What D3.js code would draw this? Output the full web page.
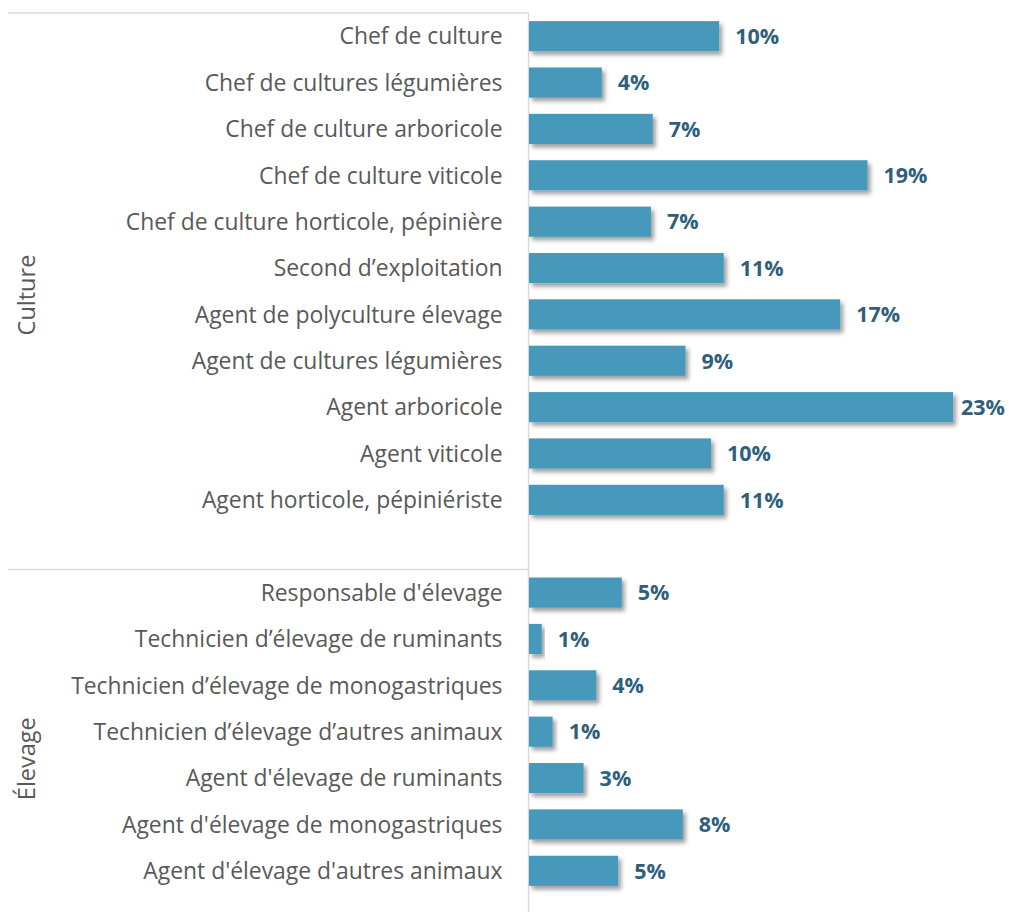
<!DOCTYPE html>
<html>
<head>
<meta charset="utf-8">
<script src="https://cdn.jsdelivr.net/npm/d3@7"></script>
<style>
  body { margin: 0; background: #fff; }
  svg { display: block; }
  .cat text { font-family: 'Open Sans', sans-serif; font-size: 22.9px; fill: #595959; }
  .val { font-family: 'Open Sans', sans-serif; font-size: 21.5px; font-weight: bold; fill: #2f5f7c; }
  .grp { font-family: 'Open Sans', sans-serif; font-size: 23.5px; fill: #595959; }
</style>
</head>
<body>
<div id="chart"></div>
<script>
// categories per group (top to bottom)
var cultureLabels = [
  "Chef de culture",
  "Chef de cultures légumières",
  "Chef de culture arboricole",
  "Chef de culture viticole",
  "Chef de culture horticole, pépinière",
  "Second d’exploitation",
  "Agent de polyculture élevage",
  "Agent de cultures légumières",
  "Agent arboricole",
  "Agent viticole",
  "Agent horticole, pépiniériste"
];
var cultureValues = [10.45, 4.0, 6.8, 18.6, 6.7, 10.7, 17.1, 8.6, 23.3, 10.0, 10.7];

var elevageLabels = [
  "Responsable d'élevage",
  "Technicien d’élevage de ruminants",
  "Technicien d’élevage de monogastriques",
  "Technicien d’élevage d’autres animaux",
  "Agent d'élevage de ruminants",
  "Agent d'élevage de monogastriques",
  "Agent d'élevage d'autres animaux"
];
var elevageValues = [5.1, 0.7, 3.7, 1.3, 3.0, 8.45, 4.9];

var groups = [
  {name: "Culture", labels: cultureLabels, values: cultureValues},
  {name: "Élevage", labels: elevageLabels, values: elevageValues}
];

var width = 1009, height = 912,
    axisX = 528.5;

// rows: each group followed by an empty slot
var rows = [], slots = [];
groups.forEach(function(g, gi) {
  g.labels.forEach(function(l, i) {
    rows.push({label: l, value: g.values[i], group: g.name});
    slots.push(l);
  });
  if (gi < groups.length - 1) slots.push("__gap" + gi);
});

var y = d3.scaleBand().domain(slots).range([13, 894]).paddingInner(0.35).paddingOuter(0.175);
var x = d3.scaleLinear().domain([0, 25]).range([axisX + 0.5, axisX + 0.5 + 455]);

var svg = d3.select("#chart").append("svg")
  .attr("width", width)
  .attr("height", height);

var defs = svg.append("defs");
var f = defs.append("filter").attr("id", "shadow")
  .attr("x", "-10%").attr("y", "-30%").attr("width", "130%").attr("height", "180%");
f.append("feDropShadow")
  .attr("dx", 3).attr("dy", 3.5).attr("stdDeviation", 2.2)
  .attr("flood-color", "#000").attr("flood-opacity", 0.38);

var step = y.step(),
    top0 = y(slots[0]) - y.paddingOuter() * step;

// border lines
var lineColor = "#d9d9d9";
svg.append("line")
  .attr("x1", 8).attr("x2", axisX)
  .attr("y1", top0).attr("y2", top0)
  .attr("stroke", lineColor).attr("stroke-width", 1.5);

var sepY = y(elevageLabels[0]) - (step - y.bandwidth()) / 2;
svg.append("line")
  .attr("x1", 8).attr("x2", axisX)
  .attr("y1", sepY).attr("y2", sepY)
  .attr("stroke", lineColor).attr("stroke-width", 1.5);

svg.append("line")
  .attr("x1", axisX).attr("x2", axisX)
  .attr("y1", top0).attr("y2", height)
  .attr("stroke", lineColor).attr("stroke-width", 1.5);

// bars
svg.append("g").selectAll("rect")
  .data(rows)
  .enter().append("rect")
  .attr("x", x(0))
  .attr("y", function(d) { return y(d.label); })
  .attr("width", function(d) { return x(d.value) - x(0); })
  .attr("height", y.bandwidth())
  .attr("fill", "#4799bb")
  .attr("filter", "url(#shadow)");

// value labels (pulled in if they would run past the edge)
svg.append("g").selectAll("text")
  .data(rows)
  .enter().append("text")
  .attr("class", "val")
  .attr("y", function(d) { return y(d.label) + y.bandwidth() / 2; })
  .attr("dy", "0.36em")
  .text(function(d) { return Math.round(d.value) + "%"; })
  .attr("x", function(d) {
    var w = this.getComputedTextLength();
    return Math.min(x(d.value) + 16, width - 4 - w);
  });

// category axis
var axis = d3.axisLeft(y)
  .tickSize(0)
  .tickPadding(26)
  .tickFormat(function(d) { return d.indexOf("__gap") === 0 ? "" : d; });

svg.append("g")
  .attr("class", "cat")
  .attr("transform", "translate(" + axisX + ",0)")
  .call(axis)
  .call(function(g) { g.select(".domain").remove(); })
  .selectAll("text")
  .attr("dy", "0.36em");

// group labels
svg.append("g").selectAll("text")
  .data(groups)
  .enter().append("text")
  .attr("class", "grp")
  .attr("text-anchor", "middle")
  .attr("transform", function(g) {
    var a = y(g.labels[0]), b = y(g.labels[g.labels.length - 1]) + y.bandwidth();
    var cy = (a + b) / 2 + 27;
    return "translate(27," + cy + ") rotate(-90)";
  })
  .attr("dy", "0.36em")
  .text(function(g) { return g.name; });
</script>
</body>
</html>
